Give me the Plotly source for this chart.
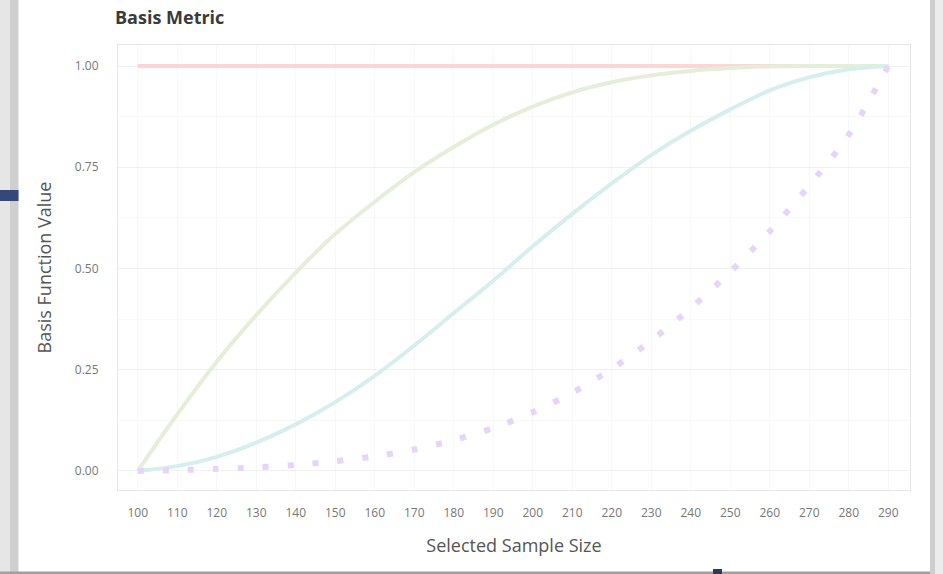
import plotly.graph_objects as go

# Sample sizes on the x axis (categorical) and the four metric curves
sample_sizes = ["100", "110", "120", "130", "140", "150", "160", "170", "180", "190",
                "200", "210", "220", "230", "240", "250", "260", "270", "280", "290"]

constant_curve = [1.0] * 20
fast_curve = [0.0, 0.14, 0.27, 0.385, 0.49, 0.585, 0.665, 0.738, 0.80, 0.855,
              0.90, 0.935, 0.96, 0.977, 0.988, 0.995, 0.999, 1.0, 1.0, 1.0]
mid_curve = [0.0, 0.012, 0.035, 0.07, 0.115, 0.17, 0.235, 0.31, 0.39, 0.47,
             0.555, 0.635, 0.71, 0.78, 0.84, 0.893, 0.94, 0.972, 0.992, 1.0]
slow_curve = [0.0, 0.002, 0.005, 0.009, 0.015, 0.024, 0.036, 0.053, 0.076, 0.106,
              0.145, 0.193, 0.252, 0.322, 0.402, 0.492, 0.592, 0.705, 0.83, 1.0]

y_tick_vals = [0.0, 0.25, 0.5, 0.75, 1.0]
y_tick_text = ["0.00", "0.25", "0.50", "0.75", "1.00"]

W, H = 943, 574
ML, MR, MT, MB = 118, 33, 45, 84
PW, PH = W - ML - MR, H - MT - MB


def px_x(p):
    return (p - ML) / PW


def px_y(p):
    return 1 - (p - MT) / PH


fig = go.Figure()
fig.add_trace(go.Scatter(x=sample_sizes, y=constant_curve, mode="lines",
                         line=dict(color="#fbd6d6", width=4), showlegend=False))
fig.add_trace(go.Scatter(x=sample_sizes, y=fast_curve, mode="lines",
                         line=dict(color="#e5eed8", width=4, shape="spline", smoothing=0.8),
                         showlegend=False))
fig.add_trace(go.Scatter(x=sample_sizes, y=mid_curve, mode="lines",
                         line=dict(color="#d6eeee", width=4, shape="spline", smoothing=0.8),
                         showlegend=False))
fig.add_trace(go.Scatter(x=sample_sizes, y=slow_curve, mode="lines",
                         line=dict(color="#e6d4fa", width=6, dash="6px,19px",
                                   shape="spline", smoothing=0.8),
                         showlegend=False))

# Page frame around the card
shapes = [
    dict(type="rect", xref="paper", yref="paper", x0=px_x(0), x1=px_x(10),
         y0=px_y(574), y1=px_y(0), fillcolor="#e6e6e6", line_width=0),
    dict(type="rect", xref="paper", yref="paper", x0=px_x(10), x1=px_x(18.5),
         y0=px_y(574), y1=px_y(0), fillcolor="#cfcfcf", line_width=0),
    dict(type="rect", xref="paper", yref="paper", x0=px_x(0), x1=px_x(18.5),
         y0=px_y(201), y1=px_y(190), fillcolor="#34497a", line_width=0),
    dict(type="rect", xref="paper", yref="paper", x0=px_x(930), x1=px_x(935),
         y0=px_y(574), y1=px_y(0), fillcolor="#cdcdcd", line_width=0),
    dict(type="rect", xref="paper", yref="paper", x0=px_x(935), x1=px_x(943),
         y0=px_y(574), y1=px_y(0), fillcolor="#ececec", line_width=0),
    dict(type="rect", xref="paper", yref="paper", x0=px_x(0), x1=px_x(930),
         y0=px_y(574), y1=px_y(571.5), fillcolor="#a0a0a0", line_width=0),
    dict(type="rect", xref="paper", yref="paper", x0=px_x(713), x1=px_x(722),
         y0=px_y(574), y1=px_y(569), fillcolor="#2c3a5c", line_width=0),
]

grid = "rgba(0,0,0,0.028)"

fig.update_layout(
    width=W, height=H,
    margin=dict(l=ML, r=MR, t=MT, b=MB),
    paper_bgcolor="white",
    plot_bgcolor="white",
    font=dict(family="Open Sans, Arial, sans-serif", color="#555"),
    title=dict(text="<b>Basis Metric</b>", x=115 / W, xref="container", xanchor="left",
               y=1 - 18 / H, yref="container", yanchor="middle",
               font=dict(size=18, color="#3a3a3a")),
    shapes=shapes,
    xaxis=dict(
        type="category", range=[-0.5, 19.55],
        showgrid=True, gridcolor=grid, gridwidth=1,
        showline=True, linecolor="#e6e6e6", linewidth=1, mirror=True,
        ticks="", ticklabelstandoff=12,
        tickfont=dict(size=12, color="#777"),
        title=dict(text="Selected Sample Size", font=dict(size=18, color="#555"), standoff=18),
    ),
    yaxis=dict(
        range=[-0.047, 1.052],
        tickvals=y_tick_vals, ticktext=y_tick_text,
        showgrid=True, gridcolor=grid, gridwidth=1,
        minor=dict(dtick=0.125, tick0=0, showgrid=True, gridcolor=grid),
        zeroline=False,
        showline=True, linecolor="#e6e6e6", linewidth=1, mirror=True,
        ticks="", ticklabelstandoff=16,
        tickfont=dict(size=12, color="#777"),
        title=dict(text="Basis Function Value", font=dict(size=18, color="#555"), standoff=18),
    ),
)

fig.write_html("out.html")
